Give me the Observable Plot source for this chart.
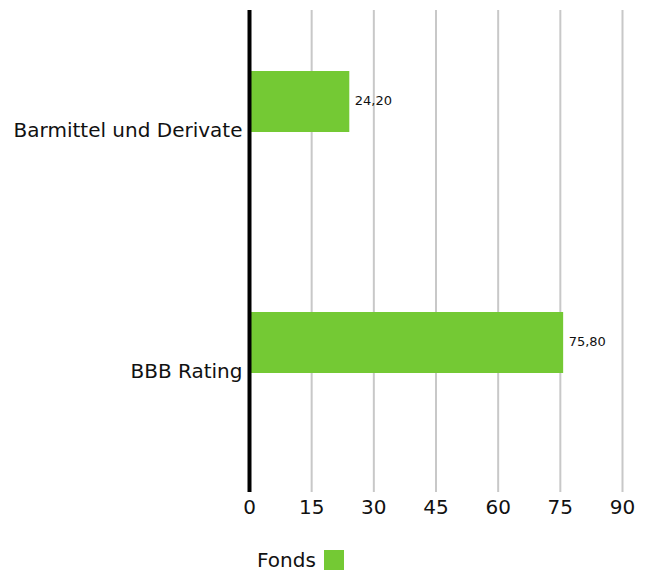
<!DOCTYPE html>
<html><head><meta charset="utf-8">
<script src="https://cdn.jsdelivr.net/npm/d3@7"></script>
<script src="https://cdn.jsdelivr.net/npm/@observablehq/plot@0.6"></script>
<style>
body{margin:0;background:#fff;font-family:"DejaVu Sans",sans-serif;}
#legend{display:flex;align-items:center;margin-left:257px;margin-top:13px;font-size:20px;color:#111;}
#legend span.sw{display:inline-block;width:20px;height:20px;background:#74c934;margin-left:8px;}
</style>
</head><body>
<div id="chart"></div>
<div id="legend"><span>Fonds</span><span class="sw"></span></div>
<script>
const categories = ["Barmittel und Derivate", "BBB Rating"];
const values = [24.2, 75.8];
const seriesName = "Fonds";
const xTicks = [0, 15, 30, 45, 60, 75, 90];

const data = categories.map((c, i) => ({category: c, value: values[i]}));
const fmt = v => v.toFixed(2).replace(".", ",");

const chart = Plot.plot({
  width: 651,
  height: 535,
  marginTop: 10,
  marginBottom: 43,
  marginLeft: 249,
  marginRight: 29,
  style: {fontFamily: "DejaVu Sans, sans-serif", fontSize: "20px", color: "#111"},
  x: {domain: [0, 90], ticks: xTicks, tickSize: 0, tickPadding: 7, label: null},
  y: {domain: categories, padding: 0, tickSize: 0, tickPadding: 7, label: null},
  marks: [
    Plot.ruleX(xTicks.filter(t => t > 0), {stroke: "#c8c8c8", strokeWidth: 2}),
    Plot.barX(data, {x: "value", y: "category", fill: "#74c934", insetTop: 61, insetBottom: 119, insetLeft: 2}),
    Plot.text(data, {x: "value", y: "category", text: d => fmt(d.value), dx: 5, dy: -30, textAnchor: "start", fontSize: 13, fill: "#111"}),
    Plot.ruleX([0], {stroke: "#000", strokeWidth: 4})
  ]
});
document.getElementById("chart").appendChild(chart);
</script>
</body></html>
